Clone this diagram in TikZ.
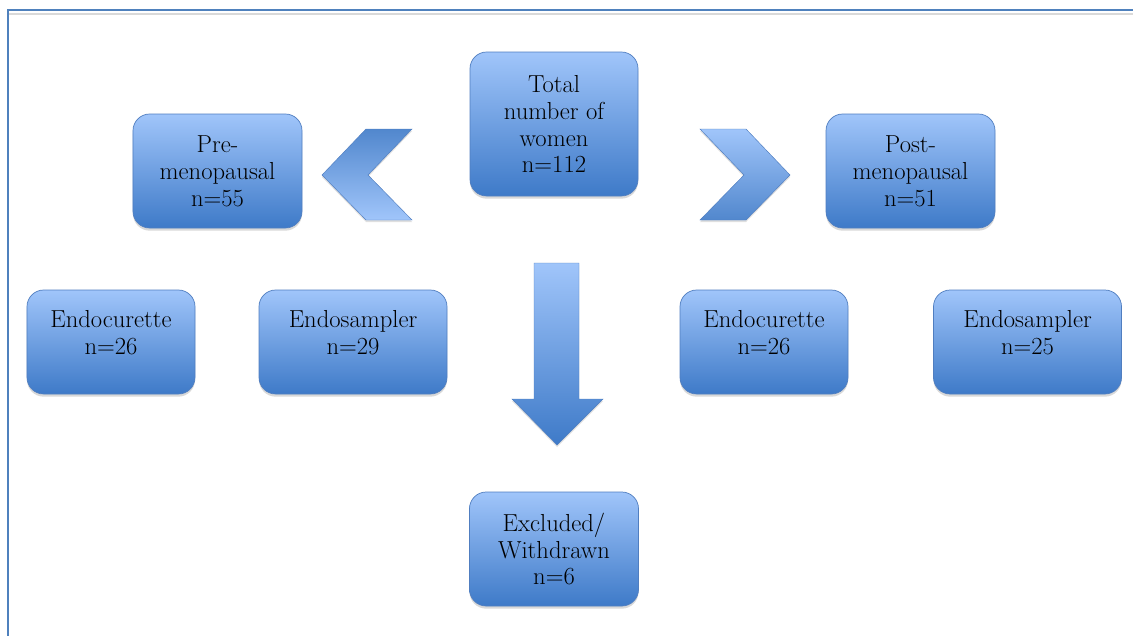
\documentclass[tikz,border=0pt]{standalone}
\usepackage{fontspec}
\usepackage{tikz}
\usetikzlibrary{positioning}
\usetikzlibrary{shadows}
\definecolor{boxtop}{RGB}{160,197,250}
\definecolor{boxbot}{RGB}{62,122,200}
\definecolor{boxline}{RGB}{80,126,192}
\definecolor{frameblue}{RGB}{79,129,189}

\begin{document}
\begin{tikzpicture}[x=0.03cm, y=-0.03cm,
	stage/.style={draw=boxline, line width=0.6pt, rounded corners=0.5cm, top color=boxtop, bottom color=boxbot, align=center, font=\fontsize{21}{23}\selectfont, drop shadow={shadow xshift=0pt, shadow yshift=-0.08cm, opacity=0.3}},
	pointer/.style={draw=boxline, line join=miter, drop shadow={shadow xshift=0pt, shadow yshift=-0.06cm, opacity=0.25}}]
		\useasboundingbox (0,0) rectangle (1133,635);
		% frame
		\draw[gray!30, line width=1.5pt] (9,14) -- (1133,14);
		\draw[frameblue, line width=1.2pt] (8,636) -- (8,10) -- (1133,10);
		% boxes
		\node[stage, minimum width=5.04cm, minimum height=4.32cm] (total) at (554,124) {Total\\number of\\women\\n=112};
		\begin{scope}[every node/.append style={minimum width=5.07cm, minimum height=3.42cm}]
			\node[stage] (pre) at (217.5,171) {Pre-\\menopausal\\n=55};
			\node[stage] (post) at (910.5,171) {Post-\\menopausal\\n=51};
			\node[stage] (excl) at (554,549) {Excluded/\\Withdrawn\\n=6};
		\end{scope}
		\begin{scope}[every node/.append style={minimum height=3.12cm, text depth=0.6cm}]
			\node[stage, minimum width=5.04cm] (curL) at (111,342) {Endocurette\\n=26};
			\node[stage, minimum width=5.64cm] (sampL) at (353,342) {Endosampler\\n=29};
			\node[stage, minimum width=5.04cm] (curR) at (764,342) {Endocurette\\n=26};
			\node[stage, minimum width=5.64cm] (sampR) at (1027.5,342) {Endosampler\\n=25};
		\end{scope}
		% arrows
		\shade[pointer, top color=boxbot!90, bottom color=boxtop] (366,129) -- (412,129) -- (368,175) -- (412,220) -- (366,220) -- (322,175) -- cycle;
		\shade[pointer, top color=boxtop, bottom color=boxbot!90] (700,129) -- (746,129) -- (790,175) -- (746,220) -- (700,220) -- (744,175) -- cycle;
		\shade[pointer, top color=boxtop, bottom color=boxbot] (534,263) -- (579,263) -- (579,399) -- (603,399) -- (557,445) -- (512,399) -- (534,399) -- cycle;
	\end{tikzpicture}
\end{document}
